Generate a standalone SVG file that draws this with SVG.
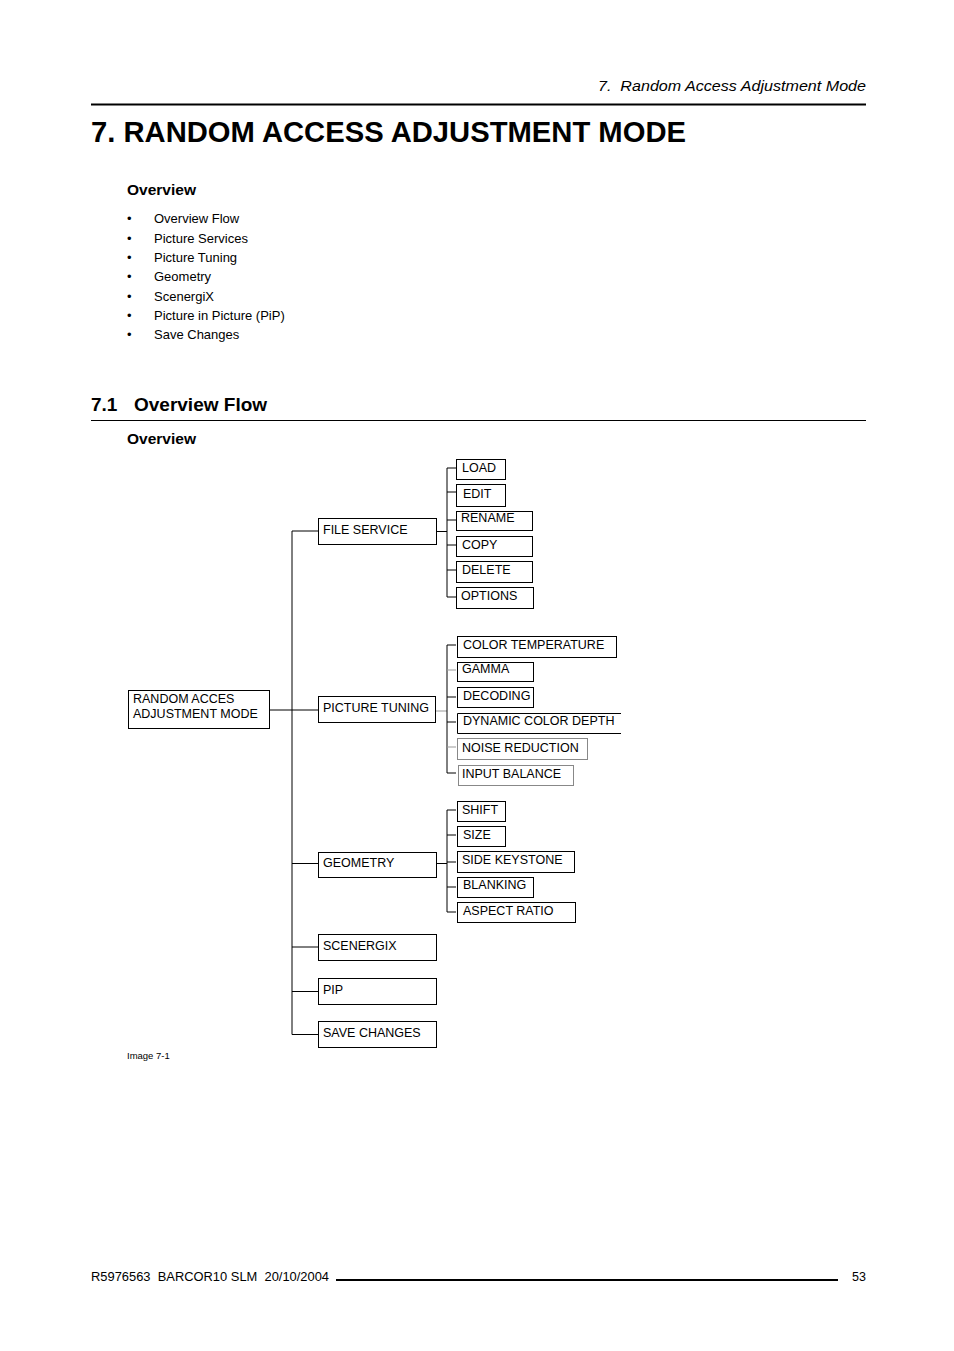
<svg xmlns="http://www.w3.org/2000/svg" width="954" height="1351" viewBox="0 0 954 1351">
<style>
text{font-family:"Liberation Sans",Arial,sans-serif;fill:#000}
.b{fill:#fff;stroke:#000;stroke-width:1}
.g{fill:#fff;stroke:#888;stroke-width:1}
.l{font-size:12.5px}
.c line,.c polyline{stroke:#000;stroke-width:1;fill:none}
.c .gr{stroke:#999}
.bl{font-size:13px}
</style>
<rect width="954" height="1351" fill="#fff"/>
<text x="598" y="91" font-size="15.5" font-style="italic" xml:space="preserve" textLength="268" lengthAdjust="spacingAndGlyphs">7.  Random Access Adjustment Mode</text>
<rect x="91" y="103.5" width="775" height="2" fill="#000"/>
<text x="91" y="142" font-size="29" font-weight="bold" textLength="595" lengthAdjust="spacingAndGlyphs">7. RANDOM ACCESS ADJUSTMENT MODE</text>
<text x="127" y="195" font-size="15.5" font-weight="bold">Overview</text>
<g class="bl">
<text x="127" y="223">•</text><text x="154" y="223">Overview Flow</text>
<text x="127" y="243">•</text><text x="154" y="243">Picture Services</text>
<text x="127" y="262">•</text><text x="154" y="262">Picture Tuning</text>
<text x="127" y="281">•</text><text x="154" y="281">Geometry</text>
<text x="127" y="301">•</text><text x="154" y="301">ScenergiX</text>
<text x="127" y="320">•</text><text x="154" y="320">Picture in Picture (PiP)</text>
<text x="127" y="339">•</text><text x="154" y="339">Save Changes</text>
</g>
<text x="91" y="411" font-size="19" font-weight="bold">7.1</text>
<text x="134" y="411" font-size="19" font-weight="bold">Overview Flow</text>
<rect x="91" y="420" width="775" height="1" fill="#000"/>
<text x="127" y="444" font-size="15.5" font-weight="bold">Overview</text>

<g class="c" id="connectors">
<line x1="270" y1="710" x2="318" y2="710"/>
<line x1="292" y1="531" x2="292" y2="1034.5"/>
<line x1="292" y1="531" x2="318" y2="531"/>
<line x1="292" y1="863.5" x2="318" y2="863.5"/>
<line x1="292" y1="947" x2="318" y2="947"/>
<line x1="292" y1="991.5" x2="318" y2="991.5"/>
<line x1="292" y1="1034.5" x2="318" y2="1034.5"/>
<line x1="436" y1="531.5" x2="447" y2="531.5"/>
<line x1="447" y1="468" x2="447" y2="597"/>
<line x1="447" y1="468" x2="456" y2="468"/>
<line x1="447" y1="492" x2="456" y2="492"/>
<line x1="447" y1="520" x2="456" y2="520"/>
<line x1="447" y1="545" x2="456" y2="545"/>
<line x1="447" y1="570" x2="456" y2="570"/>
<line x1="447" y1="597" x2="456" y2="597"/>
<line class="gr" x1="436" y1="711" x2="447" y2="711"/>
<line x1="447" y1="645" x2="447" y2="773"/>
<line x1="447" y1="645" x2="456" y2="645"/>
<line class="gr" x1="447" y1="670" x2="456" y2="670"/>
<line x1="447" y1="697" x2="456" y2="697"/>
<line x1="447" y1="722" x2="456" y2="722"/>
<line class="gr" x1="447" y1="747" x2="456" y2="747"/>
<line x1="447" y1="773" x2="456" y2="773"/>
<line x1="436" y1="863.5" x2="447" y2="863.5"/>
<line x1="447" y1="810" x2="447" y2="912"/>
<line x1="447" y1="810" x2="456" y2="810"/>
<line x1="447" y1="835" x2="456" y2="835"/>
<line x1="447" y1="862" x2="456" y2="862"/>
<line x1="447" y1="887" x2="456" y2="887"/>
<line x1="447" y1="912" x2="456" y2="912"/>
</g>

<g id="root"><rect class="b" x="128.5" y="690.5" width="141" height="38"/><text class="l" x="133" y="703">RANDOM ACCES</text><text class="l" x="133" y="718">ADJUSTMENT MODE</text></g>

<g id="file-service"><rect class="b" x="318.5" y="518.5" width="118" height="26"/><text class="l" x="323" y="534">FILE SERVICE</text></g>
<g id="picture-tuning"><rect class="b" x="318.5" y="696.5" width="117" height="26"/><text class="l" x="323" y="712">PICTURE TUNING</text></g>
<g id="geometry"><rect class="b" x="318.5" y="852.5" width="118" height="25"/><text class="l" x="323" y="867">GEOMETRY</text></g>
<g id="scenergix"><rect class="b" x="318.5" y="934.5" width="118" height="26"/><text class="l" x="323" y="950">SCENERGIX</text></g>
<g id="pip"><rect class="b" x="318.5" y="978.5" width="118" height="26"/><text class="l" x="323" y="994">PIP</text></g>
<g id="save-changes"><rect class="b" x="318.5" y="1021.5" width="118" height="26"/><text class="l" x="323" y="1037">SAVE CHANGES</text></g>

<g id="load"><rect class="b" x="456.5" y="459.5" width="49" height="20"/><text class="l" x="462" y="472">LOAD</text></g>
<g id="edit"><rect class="b" x="456.5" y="484.5" width="49" height="22"/><text class="l" x="463" y="498">EDIT</text></g>
<g id="rename"><rect class="b" x="456.5" y="511.5" width="76" height="19"/><text class="l" x="461" y="522">RENAME</text></g>
<g id="copy"><rect class="b" x="456.5" y="536.5" width="76" height="20"/><text class="l" x="462" y="549">COPY</text></g>
<g id="delete"><rect class="b" x="456.5" y="561.5" width="76" height="21"/><text class="l" x="462" y="574">DELETE</text></g>
<g id="options"><rect class="b" x="456.5" y="587.5" width="77" height="21"/><text class="l" x="461" y="600">OPTIONS</text></g>

<g id="color-temperature"><rect class="b" x="457.5" y="636.5" width="159" height="21"/><text class="l" x="463" y="649">COLOR TEMPERATURE</text></g>
<g id="gamma"><rect class="b" x="457.5" y="662.5" width="76" height="19"/><text class="l" x="462" y="673">GAMMA</text></g>
<g id="decoding"><rect class="b" x="457.5" y="687.5" width="76" height="20"/><text class="l" x="463" y="700">DECODING</text></g>
<g id="dynamic-color-depth"><path d="M621 713.5H457.5V733.5H621" fill="none" stroke="#000"/><text class="l" x="463" y="725">DYNAMIC COLOR DEPTH</text></g>
<g id="noise-reduction"><rect class="g" x="457.5" y="738.5" width="130" height="21"/><text class="l" x="462" y="752">NOISE REDUCTION</text></g>
<g id="input-balance"><rect class="g" x="458.5" y="765.5" width="115" height="20"/><text class="l" x="462" y="778">INPUT BALANCE</text></g>

<g id="shift"><rect class="b" x="457.5" y="801.5" width="48" height="20"/><text class="l" x="462" y="814">SHIFT</text></g>
<g id="size"><rect class="b" x="457.5" y="826.5" width="48" height="20"/><text class="l" x="463" y="839">SIZE</text></g>
<g id="side-keystone"><rect class="b" x="457.5" y="851.5" width="117" height="21"/><text class="l" x="462" y="864">SIDE KEYSTONE</text></g>
<g id="blanking"><rect class="b" x="457.5" y="877.5" width="76" height="20"/><text class="l" x="463" y="889">BLANKING</text></g>
<g id="aspect-ratio"><rect class="b" x="457.5" y="902.5" width="118" height="20"/><text class="l" x="463" y="915">ASPECT RATIO</text></g>

<text x="127" y="1059" font-size="9.5">Image 7-1</text>

<text x="91" y="1281" font-size="12.5" xml:space="preserve" textLength="238" lengthAdjust="spacingAndGlyphs">R5976563  BARCOR10 SLM  20/10/2004</text>
<rect x="336" y="1279" width="502" height="2" fill="#000"/>
<text x="866" y="1281" font-size="12.5" text-anchor="end">53</text>
</svg>
